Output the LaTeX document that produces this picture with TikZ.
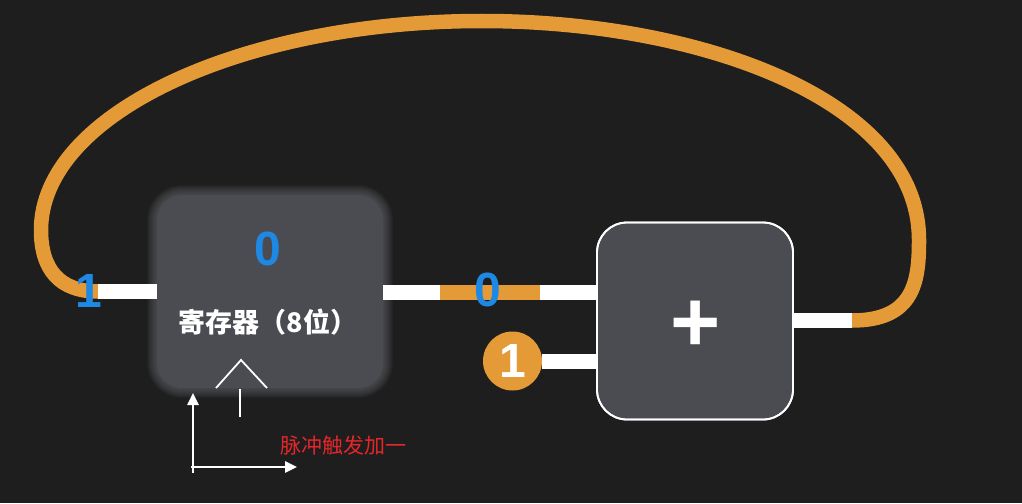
\documentclass[tikz,border=0pt]{standalone}
\usepackage{fontspec}
\setmainfont{Liberation Sans}
\newfontfamily\cjk{Noto Sans CJK SC}
\usetikzlibrary{arrows.meta}
\definecolor{bg}{HTML}{1E1E1E}
\definecolor{boxc}{HTML}{4A4C52}
\definecolor{wireo}{HTML}{E39A37}
\definecolor{numb}{HTML}{1E88E5}
\definecolor{redt}{HTML}{E5262A}
\tikzset{
 wire/.style={line width=15pt, white},
 owire/.style={line width=15pt, wireo},
 loopwire/.style={line width=14.5pt, wireo},
 num/.style={font=\fontsize{48}{48}\selectfont\bfseries, text=numb, inner sep=0pt},
 axisline/.style={line width=2.5pt, white, -{Triangle[length=12pt,width=11pt]}},
 thinline/.style={line width=1.8pt, white},
 regbox/.style={rounded corners=25pt, fill=boxc, minimum width=226pt, minimum height=193pt, inner sep=0pt},
 addbox/.style={rounded corners=30pt, fill=boxc, draw=white, line width=1.8pt, minimum width=196pt, minimum height=197pt, inner sep=0pt}
}
\begin{document}
\begin{tikzpicture}[x=1pt,y=-1pt]
\fill[bg] (0,0) rectangle (1022,503);
\useasboundingbox (0,0) rectangle (1022,503);

% glow around register
\foreach \i in {1,...,10} {
  \pgfmathsetmacro\rr{25+\i}
  \fill[boxc!80!white, opacity=0.07, rounded corners=\rr pt] (157-\i,195-\i) rectangle (383+\i,388+\i);
}

% coordinates
\coordinate (rin) at (98,291.5);
\coordinate (m1) at (440,292.5);
\coordinate (m2) at (540,292.5);
\coordinate (out) at (852,320.5);

\node[regbox] (reg) at (270,291.5) {};
\node[addbox] (add) at (695,321) {};
\node[circle, fill=wireo, minimum size=59pt, inner sep=0pt, text=white, font=\fontsize{48}{48}\selectfont\bfseries] (one) at (512.5,361) {1};

% feedback loop
\draw[loopwire] (out) .. controls (915,320.5) and (919,280) .. (919,240)
  .. controls (919,100) and (700,21) .. (482,21)
  .. controls (240,21) and (41,115) .. (41,230)
  .. controls (41,270) and (60,291.5) .. (rin);

% wires
\draw[wire] (rin) -- (rin -| reg.west);
\draw[wire] (reg.east |- m1) -- (m1);
\draw[owire] (m1) -- (m2);
\draw[wire] (m2) -- (m2 -| add.west);
\draw[wire] (one.east) -- (one.east -| add.west);
\draw[wire] (add.east |- out) -- (out);

% redraw add border on top
\node[addbox, fill=none] at (add) {};

% texts
\node[num] (regval) at (268,249) {0};
\node[font=\cjk\bfseries\fontsize{27}{27}\selectfont, text=white, inner sep=0pt] (reglbl) at (268,322) {寄存器（8位）};
\node[num] (lin) at (89,291) {1};
\node[num] (mid) at (488,290) {0};
\node[font=\bfseries\fontsize{86}{86}\selectfont, text=white, inner sep=0pt, xshift=1pt, yshift=-5pt] (plus) at (add) {+};

% clock symbol
\coordinate (clkL) at (216,388);
\coordinate (clkT) at (241,360);
\coordinate (clkR) at (267,388);
\draw[thinline] (clkL) -- (clkT) -- (clkR);
\coordinate (tk1) at (240,389);
\coordinate (tk2) at (240,417);
\draw[thinline] (tk1) -- (tk2);

% axes
\coordinate (ybot) at (193,473);
\coordinate (ytip) at (193,393);
\coordinate (xleft) at (191,467);
\coordinate (xtip) at (297,467);
\draw[axisline] (ybot) -- (ytip);
\draw[axisline] (xleft) -- (xtip);

\node[font=\cjk\fontsize{21}{21}\selectfont, text=redt, anchor=west, inner sep=0pt] (note) at (280,446) {脉冲触发加一};
\end{tikzpicture}
\end{document}
